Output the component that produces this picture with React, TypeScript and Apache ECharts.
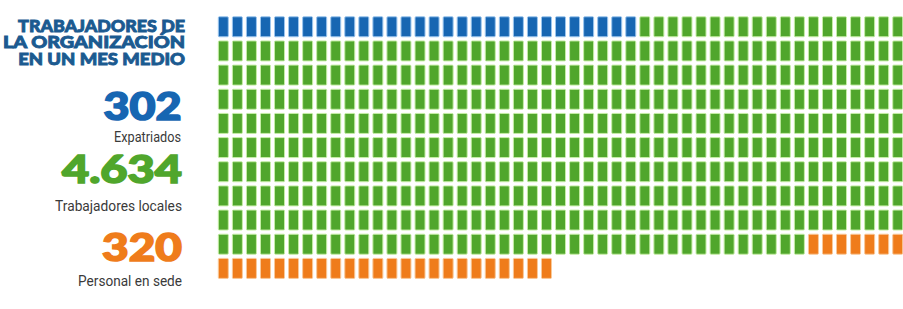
import React, { useEffect, useRef } from "react";
import * as echarts from "echarts";

// ---- data ----
const categories = ["Expatriados", "Trabajadores locales", "Personal en sede"];
const totals = [302, 4634, 320];
const totalLabels = ["302", "4.634", "320"];
// each cell ≈ 10 people; the picture is cropped at the 50th column
const cellCounts = [30, 462, 32];
const headingLines = ["TRABAJADORES DE", "LA ORGANIZACIÓN", "EN UN MES MEDIO"];

const COLUMNS = 50;
const VISIBLE_COLUMNS = 49;
const ROWS = 11;
const colors = ["#1766b2", "#50a62c", "#ef7c1b"];
const haloColors = ["#9cc6ee", "#c6eea6", "#f9c99a"];

function measure(text: string, font: string): number {
  const c = document.createElement("canvas");
  const ctx = c.getContext("2d")!;
  ctx.font = font;
  return ctx.measureText(text).width;
}

function fitText(
  text: string,
  font: string,
  x: number,
  y: number,
  target: number,
  fill: string,
  strokeW = 0
) {
  const w = measure(text, font);
  const sx = w > 0 ? target / w : 1;
  const style: any = {
    text,
    font,
    fill,
    align: "right",
    verticalAlign: "middle",
    textAlign: "right",
    textVerticalAlign: "middle",
  };
  if (strokeW > 0) {
    style.stroke = fill;
    style.lineWidth = strokeW;
  }
  return { type: "text", x, y, scaleX: sx, style };
}

export default function App() {
  const ref = useRef<HTMLDivElement>(null);

  useEffect(() => {
    if (!ref.current) return;
    const chart = echarts.init(ref.current, undefined, { renderer: "svg" });

    const cells: number[][] = [];
    let k = 0;
    cellCounts.forEach((n, ci) => {
      for (let i = 0; i < n; i++) {
        const col = k % COLUMNS;
        const row = Math.floor(k / COLUMNS);
        cells.push([col + 0.5, row + 0.5, ci]);
        k++;
      }
    });

    const headFont = "900 17px Lato, 'DejaVu Sans', sans-serif";
    const numFont = "900 38px Lato, 'DejaVu Sans', sans-serif";
    const smallFont = "14px Roboto, 'Liberation Sans', sans-serif";
    const headColor = "#1b5a90";
    const labelColor = "#3a3a3a";
    const RX = 184;

    const graphics: any[] = [
      fitText(headingLines[0], headFont, 185, 25.5, 167, headColor, 0.9),
      fitText(headingLines[1], headFont, 185, 42, 183, headColor, 0.9),
      fitText(headingLines[2], headFont, 185, 59, 167, headColor, 0.9),
      fitText(totalLabels[0], numFont, 181.5, 105, 78, colors[0], 1.6),
      fitText(categories[0], smallFont, 181, 137.5, 67, labelColor),
      fitText(totalLabels[1], numFont, 182, 168, 120, colors[1], 1.6),
      fitText(categories[1], smallFont, 182, 206, 127, labelColor),
      fitText(totalLabels[2], numFont, 182, 246, 80, colors[2], 1.6),
      fitText(categories[2], smallFont, 182, 280.5, 104, labelColor),
    ];

    chart.setOption({
      animation: false,
      backgroundColor: "#ffffff",
      grid: {
        left: 216.3,
        top: 14.7,
        width: VISIBLE_COLUMNS * 14.05,
        height: ROWS * 24.16,
        outerBoundsMode: "none",
      },
      xAxis: { type: "value", min: 0, max: VISIBLE_COLUMNS, show: false },
      yAxis: { type: "value", min: 0, max: ROWS, inverse: true, show: false },
      graphic: graphics,
      series: [
        {
          type: "custom",
          data: cells,
          clip: false,
          renderItem: (params: any, api: any) => {
            const p = api.coord([api.value(0), api.value(1)]);
            const ci = api.value(2) as number;
            return {
              type: "rect",
              shape: { x: p[0] - 5, y: p[1] - 10, width: 10, height: 20, r: 1 },
              style: { fill: colors[ci], stroke: haloColors[ci], lineWidth: 1 },
            };
          },
        },
      ],
    });

    return () => chart.dispose();
  }, []);

  return (
    <div
      ref={ref}
      style={{ position: "fixed", left: 0, top: 0, width: 903, height: 309 }}
    />
  );
}
